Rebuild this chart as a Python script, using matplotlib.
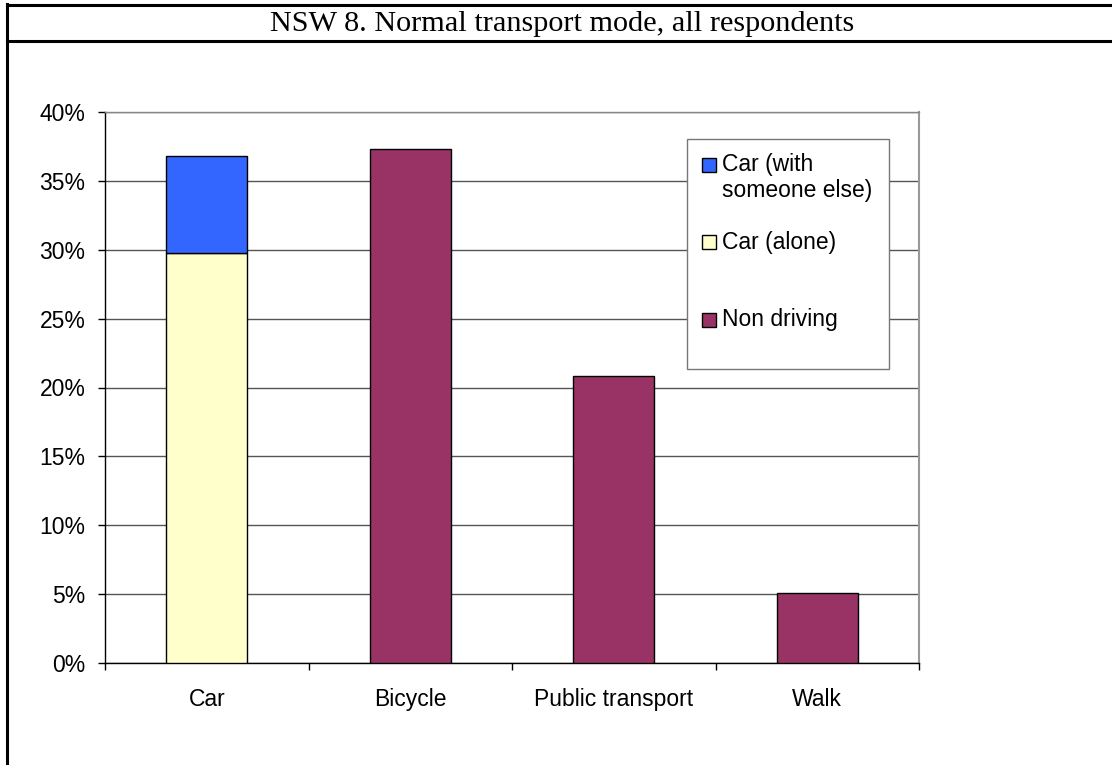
import matplotlib.pyplot as plt
from matplotlib.patches import Rectangle
from matplotlib.lines import Line2D
from matplotlib.ticker import PercentFormatter

categories = ["Car", "Bicycle", "Public transport", "Walk"]
car_alone = [29.8, 0, 0, 0]
car_with_other = [7.0, 0, 0, 0]
non_driving = [0, 37.3, 20.8, 5.1]
legend_labels = ["Car (with\nsomeone else)", "Car (alone)", "Non driving"]

c_with = "#3366FF"
c_alone = "#FFFFCC"
c_non = "#993366"

W, H = 1112, 765
fig = plt.figure(figsize=(W / 100, H / 100), dpi=100)
fig.patch.set_facecolor("white")

def fx(px):
    return px / W

def fy(py):
    return 1 - py / H

ax = fig.add_axes([fx(105), fy(663), fx(919) - fx(105), fy(112) - fy(663)])

x = range(len(categories))
bw = 0.4
# only draw the bars that exist
ax.bar([0], [car_alone[0]], bw, color=c_alone, edgecolor="black", lw=1, zorder=3)
ax.bar([0], [car_with_other[0]], bw, bottom=[car_alone[0]], color=c_with,
       edgecolor="black", lw=1, zorder=3)
ax.bar(list(x)[1:], non_driving[1:], bw, color=c_non, edgecolor="black", lw=1, zorder=3)

ax.set_xlim(-0.5, 3.5)
ax.set_ylim(0, 40)
ax.set_yticks(range(0, 41, 5))
ax.yaxis.set_major_formatter(PercentFormatter(decimals=0))
ax.yaxis.grid(True, color="#555555", lw=1)
ax.set_axisbelow(True)

ax.set_xticks(list(x))
ax.set_xticklabels(categories)
ax.set_xticks([-0.5, 0.5, 1.5, 2.5, 3.5], minor=True)
ax.tick_params(axis="x", which="major", length=0, pad=18)
ax.tick_params(axis="x", which="minor", length=5, direction="out", width=1)
ax.tick_params(axis="y", length=5, direction="out", width=1, pad=9)
for lab in ax.get_xticklabels() + ax.get_yticklabels():
    lab.set_fontfamily("Liberation Sans")
    lab.set_fontsize(16.5)

for s in ["left", "bottom"]:
    ax.spines[s].set_color("black")
    ax.spines[s].set_linewidth(1)
ax.spines["right"].set_color("#999999")
ax.spines["right"].set_linewidth(1.5)
ax.spines["top"].set_color("#888888")
ax.spines["top"].set_linewidth(1)

# legend box
fig.add_artist(Rectangle((fx(687), fy(369)), fx(889) - fx(687), fy(139) - fy(369),
                         transform=fig.transFigure, facecolor="white",
                         edgecolor="#777777", lw=1, zorder=5))
entry_y = [165, 242, 319.5]
colors = [c_with, c_alone, c_non]
for lab, col, yy in zip(legend_labels, colors, entry_y):
    fig.add_artist(Rectangle((fx(702), fy(yy + 7)), fx(14), 14 / H,
                             transform=fig.transFigure, facecolor=col,
                             edgecolor="black", lw=1, zorder=6))
    fig.text(fx(722), fy(yy - 11.5), lab, ha="left", va="top",
             fontfamily="Liberation Sans", fontsize=16.5, zorder=6, linespacing=1.15)

# table frame around the chart
fig.add_artist(Line2D([fx(7), 1], [fy(5), fy(5)], color="black", lw=2.2))
fig.add_artist(Line2D([fx(7), 1], [fy(41), fy(41)], color="black", lw=2.2))
fig.add_artist(Line2D([fx(7), fx(7)], [fy(4), 0], color="black", lw=2.2))

fig.text(fx(562), fy(24), "NSW 8. Normal transport mode, all respondents",
         ha="center", va="center", fontfamily="Liberation Serif", fontsize=21.75)

fig.savefig("out.png", dpi=100)
